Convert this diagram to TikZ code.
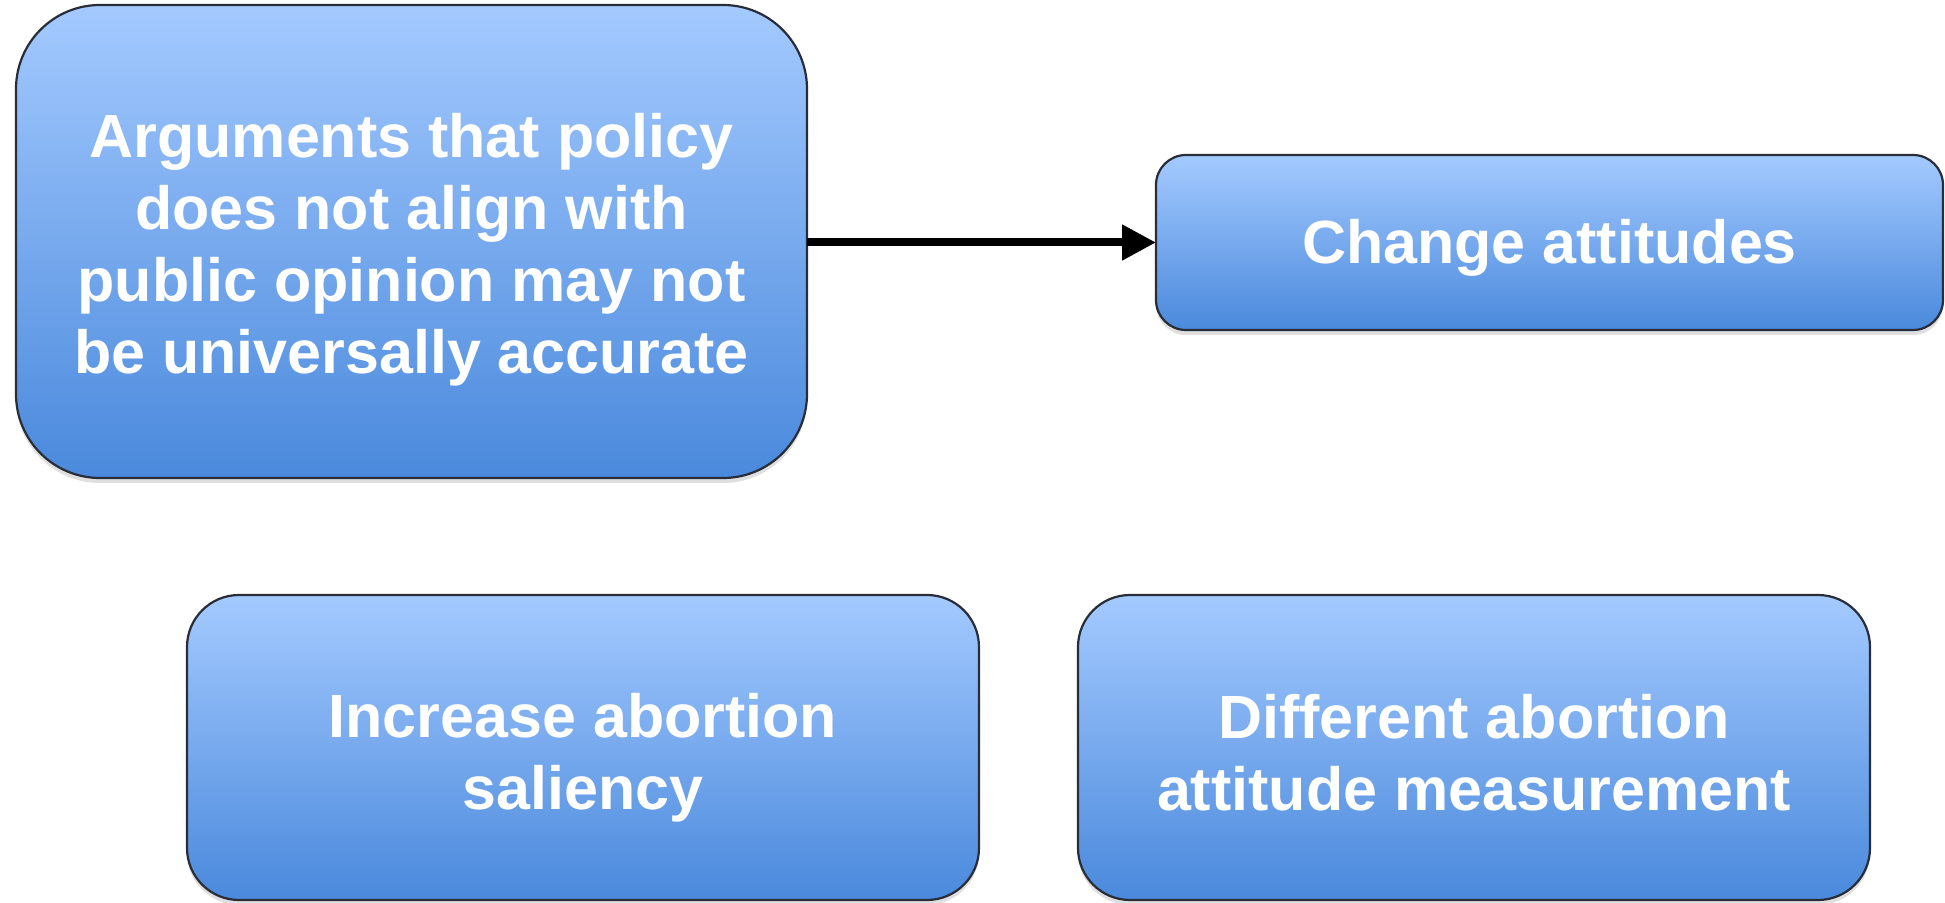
\documentclass[tikz,border=0pt]{standalone}
\usepackage{fontspec}
\setmainfont{Liberation Sans}
\usetikzlibrary{arrows.meta,shadows}
\definecolor{boxtop}{RGB}{164,202,255}
\definecolor{boxbot}{RGB}{74,137,220}
\definecolor{boxline}{RGB}{40,45,55}
\tikzset{
  bluebox/.style={draw=boxline, line width=1.1pt, top color=boxtop, bottom color=boxbot,
    inner sep=0pt, outer sep=0pt,
    drop shadow={opacity=0.25, shadow xshift=0pt, shadow yshift=-2.5pt}},
  boxtext/.style={align=center, text=white, font=\bfseries\fontsize{30.5}{36}\selectfont,
    inner sep=0pt},
  conn/.style={line width=4pt, -{Triangle[length=17pt,width=17pt]}}
}
\begin{document}
\begin{tikzpicture}[x=0.5pt,y=-0.5pt]
\useasboundingbox (0,0) rectangle (1945,903);
\node[bluebox, rounded corners=42pt, minimum width=395.5pt, minimum height=236.5pt] (b1) at (411.5,241.5) {};
\node[boxtext] (t1) at ([yshift=-4pt]b1.center)
  {Arguments that policy\\does not align with\\public opinion may not\\be universally accurate};
\node[bluebox, rounded corners=15pt, minimum width=393.5pt, minimum height=87.5pt] (b2) at (1549.5,242.5) {};
\node[boxtext] (t2) at ([yshift=-2.5pt]b2.center) {Change attitudes};
\node[bluebox, rounded corners=26pt, minimum width=396pt, minimum height=152.5pt] (b3) at (583,747.5) {};
\node[boxtext] (t3) at ([yshift=-5pt]b3.center) {Increase abortion\\saliency};
\node[bluebox, rounded corners=26pt, minimum width=396pt, minimum height=152.5pt] (b4) at (1474,747.5) {};
\node[boxtext] (t4) at ([yshift=-2.8pt]b4.center) {Different abortion\\attitude measurement};
\draw[conn] (b1.east |- b2.west) -- (b2.west);
\end{tikzpicture}
\end{document}
